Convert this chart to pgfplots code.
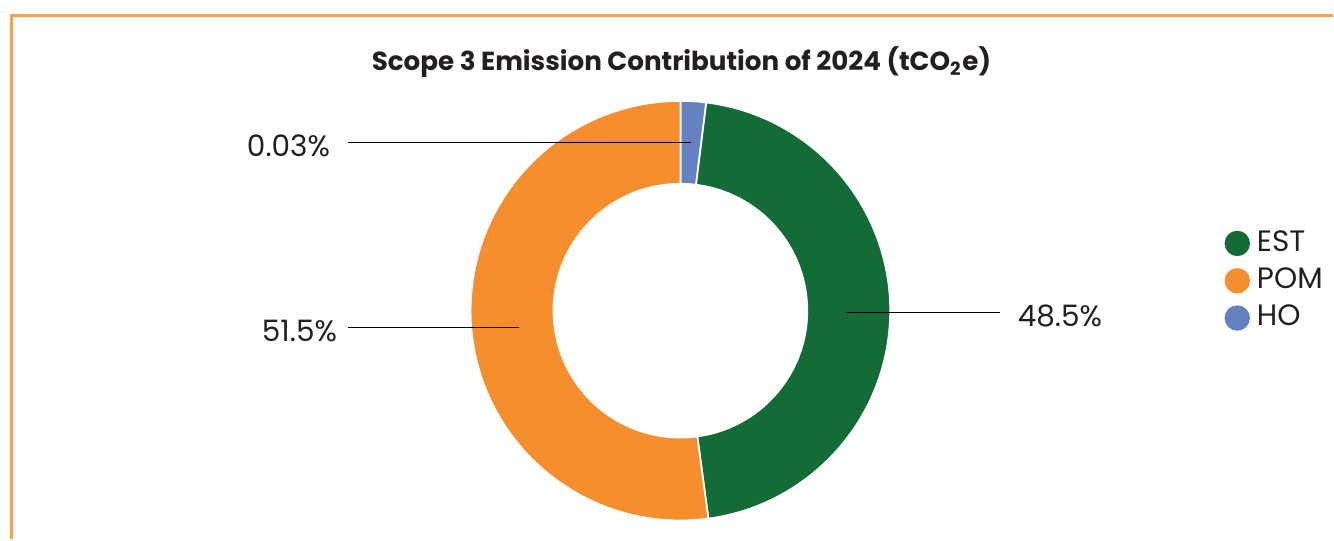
\documentclass[border=0pt]{standalone}
\usepackage{fontspec}
\setmainfont{Poppins}
\usepackage{pgfplots}
\pgfplotsset{compat=1.18}

\definecolor{estgreen}{HTML}{136B38}
\definecolor{pomorange}{HTML}{F68E2D}
\definecolor{hoblue}{HTML}{6681C2}
\definecolor{frameorange}{HTML}{F7A24F}
\definecolor{txt}{HTML}{231F20}

% slice shares as drawn (percent of the ring), clockwise from 12 o'clock
\def\shareHO{1.97}
\def\shareEST{45.90}
\def\sharePOM{52.13}
\def\Rout{2.10cm}
\def\Rin{1.27cm}

\begin{document}
\begin{tikzpicture}
\pgfmathsetmacro{\aA}{90}
\pgfmathsetmacro{\aB}{\aA-3.6*\shareHO}
\pgfmathsetmacro{\aC}{\aB-3.6*\shareEST}
\pgfmathsetmacro{\aD}{\aC-3.6*\sharePOM}
\begin{axis}[
  scale only axis, width=13.34cm, height=5.40cm,
  xmin=0, xmax=1334, ymin=0, ymax=540,
  hide axis, clip=false,
  legend style={draw=none, fill=none, at={(axis cs:1225,259)}, anchor=west,
    font=\fontsize{8.4}{10}\selectfont\color{txt}, row sep=-0.8pt,
    inner sep=0pt},
  legend cell align=left,
  legend image code/.code={\fill (0.12cm,0) circle (0.12cm);},
]
\addlegendimage{estgreen}\addlegendentry{EST}
\addlegendimage{pomorange}\addlegendentry{POM}
\addlegendimage{hoblue}\addlegendentry{HO}

% whole canvas
\path (axis cs:0,0) rectangle (axis cs:1334,540);

% frame lines
\draw[frameorange, line width=0.7pt] (axis cs:11.5,0) -- (axis cs:11.5,524.5) -- (axis cs:1334,524.5);

% donut
\begin{scope}[shift={(axis cs:681,229)}]
  \filldraw[fill=hoblue, draw=white, line width=0.5pt] (\aA:\Rout) arc[start angle=\aA, end angle=\aB, radius=\Rout] -- (\aB:\Rin) arc[start angle=\aB, end angle=\aA, radius=\Rin] -- cycle;
  \filldraw[fill=estgreen, draw=white, line width=0.5pt] (\aB:\Rout) arc[start angle=\aB, end angle=\aC, radius=\Rout] -- (\aC:\Rin) arc[start angle=\aC, end angle=\aB, radius=\Rin] -- cycle;
  \filldraw[fill=pomorange, draw=white, line width=0.5pt] (\aC:\Rout) arc[start angle=\aC, end angle=\aD, radius=\Rout] -- (\aD:\Rin) arc[start angle=\aD, end angle=\aC, radius=\Rin] -- cycle;
\end{scope}

% leader lines and labels
\draw[black, line width=0.35pt] (axis cs:348,397) -- (axis cs:692,397);
\draw[black, line width=0.35pt] (axis cs:348,212) -- (axis cs:519,212);
\draw[black, line width=0.35pt] (axis cs:847,227) -- (axis cs:1001,227);
\node[anchor=east, inner sep=0pt, text=txt, font=\fontsize{8.4}{10}\selectfont] at (axis cs:331,394) {0.03\%};
\node[anchor=east, inner sep=0pt, text=txt, font=\fontsize{8.4}{10}\selectfont] at (axis cs:338,209) {51.5\%};
\node[anchor=west, inner sep=0pt, text=txt, font=\fontsize{8.4}{10}\selectfont] at (axis cs:1018,224) {48.5\%};

% title
\node[inner sep=0pt, text=txt, font=\bfseries\fontsize{7.45}{9}\selectfont] at (axis cs:682,478) {Scope 3 Emission Contribution of 2024 (tCO\textsubscript{2}e)};
\end{axis}
\end{tikzpicture}
\end{document}
